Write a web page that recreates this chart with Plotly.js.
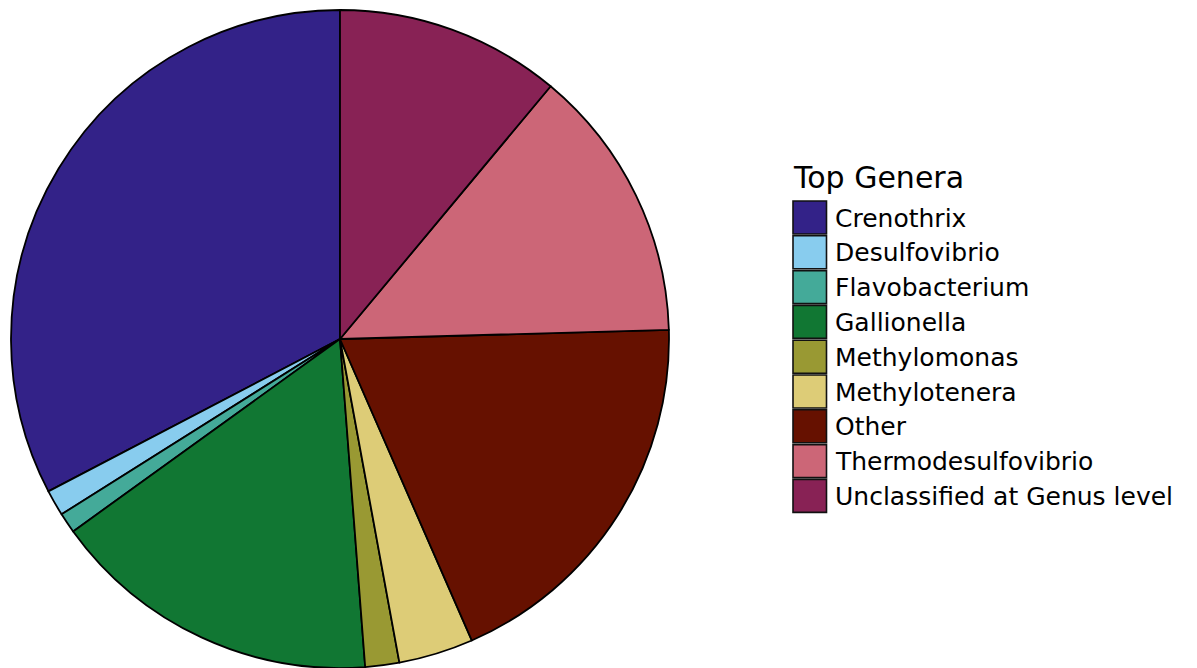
<!DOCTYPE html>
<html>
<head>
<meta charset="utf-8">
<script src="https://cdn.plot.ly/plotly-3.0.1.min.js"></script>
<style>
html,body{margin:0;padding:0;background:#fff;overflow:hidden;}
#chart{width:1197px;height:668px;}
</style>
</head>
<body>
<div id="chart"></div>
<script>
// Data (percent of reads)
const genera = ["Crenothrix","Desulfovibrio","Flavobacterium","Gallionella","Methylomonas","Methylotenera","Other","Thermodesulfovibrio","Unclassified at Genus level"];
const shares = [32.67, 1.28, 1.0, 16.28, 1.67, 3.67, 18.89, 13.5, 11.06];
const colors = ["#332288","#88CCEE","#44AA99","#117733","#999933","#DDCC77","#661100","#CC6677","#882255"];
const legendTitle = "Top Genera";

const W = 1197, H = 668;
const px = x => x / W;
const py = y => 1 - y / H;

// Plotly puts the first slice to the right of 12 o'clock; rotate so it starts at 12 o'clock going counterclockwise
const total = shares.reduce((a, b) => a + b, 0);
const firstAngle = shares[0] / total * 360;

const trace = {
  type: "pie",
  labels: genera,
  values: shares,
  sort: false,
  direction: "counterclockwise",
  rotation: -firstAngle,
  textinfo: "none",
  hoverinfo: "label+percent",
  marker: {colors: colors, line: {color: "#000000", width: 1.8}},
  domain: {x: [px(11), px(669)], y: [0, py(10)]},
  showlegend: false
};

// Manual legend (large swatches as in reference)
const shapes = [];
const annotations = [];
const swX0 = 793, swX1 = 826.5, swTop = 201, step = 34.8, swH = 33;
genera.forEach((g, i) => {
  const t = swTop + i * step;
  shapes.push({type: "rect", xref: "paper", yref: "paper",
    x0: px(swX0), x1: px(swX1), y0: py(t + swH), y1: py(t),
    fillcolor: colors[i], line: {color: "#111111", width: 1.6}});
  annotations.push({xref: "paper", yref: "paper", x: px(833), y: py(t + swH/2 + 0.5),
    xanchor: "left", yanchor: "middle", showarrow: false, text: g,
    font: {family: "DejaVu Sans", size: 25, color: "#000000"}});
});
annotations.push({xref: "paper", yref: "paper", x: px(791), y: py(177),
  xanchor: "left", yanchor: "middle", showarrow: false, text: legendTitle,
  font: {family: "DejaVu Sans", size: 30, color: "#000000"}});

const layout = {
  width: W, height: H,
  margin: {l: 0, r: 0, t: 0, b: 0, pad: 0},
  paper_bgcolor: "#ffffff",
  plot_bgcolor: "#ffffff",
  showlegend: false,
  shapes: shapes,
  annotations: annotations
};

Plotly.newPlot("chart", [trace], layout, {displayModeBar: false, staticPlot: true});
</script>
</body>
</html>
